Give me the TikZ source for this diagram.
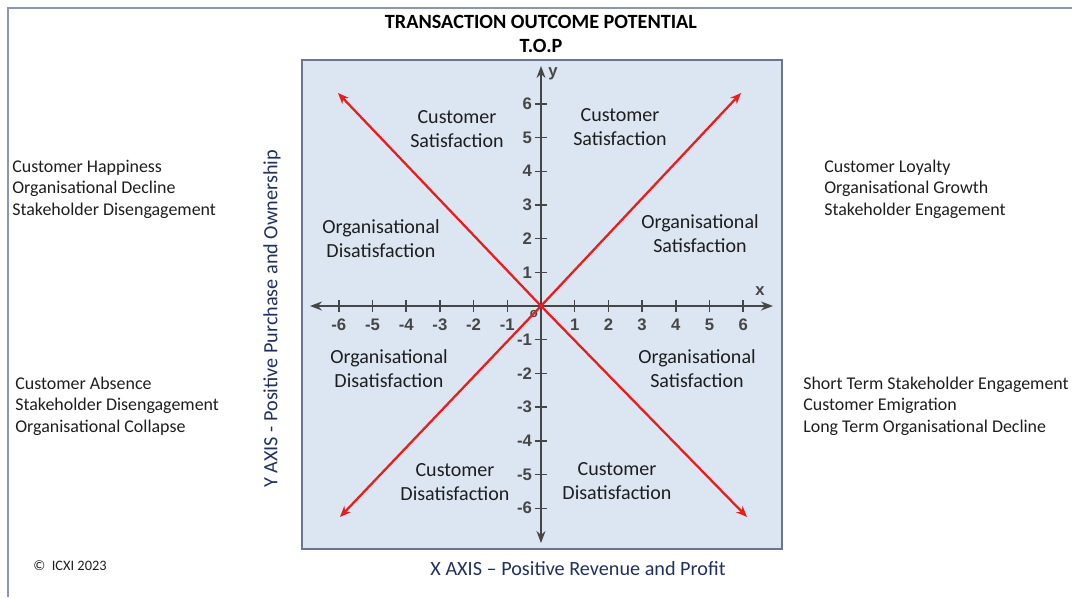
\documentclass[tikz,border=0pt]{standalone}
\usepackage{fontspec}
\setmainfont{Carlito}
\newfontfamily\tickfont{Liberation Sans}
\usepackage{tikz}
\usetikzlibrary{arrows.meta, positioning, calc}
\definecolor{framegray}{RGB}{140,150,172}
\definecolor{plotfill}{RGB}{220,230,242}
\definecolor{plotedge}{RGB}{105,118,140}
\definecolor{axisgray}{RGB}{70,70,70}
\definecolor{crossred}{RGB}{230,30,30}
\definecolor{navy}{RGB}{32,48,96}
\definecolor{textgray}{RGB}{30,30,30}

\begin{document}
\begin{tikzpicture}[
  >={Stealth[length=2mm]},
  axis/.style={draw=axisgray, line width=0.8pt, {Stealth[length=2.4mm, width=1.8mm]}-{Stealth[length=2.4mm, width=1.8mm]}},
  cross/.style={draw=crossred, line width=1.3pt, -{Stealth[length=2.2mm, width=1.8mm]}},
  tick/.style={font=\tickfont\bfseries\fontsize{9.5}{11}\selectfont, text=axisgray, inner sep=1pt},
  zone/.style={font=\fontsize{11.4}{13.6}\selectfont, text=textgray, align=center, inner sep=0pt},
  effect/.style={font=\fontsize{10.2}{12.2}\selectfont, text=textgray, align=left, anchor=west, inner sep=0pt},
  axlabel/.style={font=\fontsize{11.5}{13.6}\selectfont, text=navy, inner sep=0pt}
]
\useasboundingbox (-10.82,-5.82) rectangle (10.62,6.12);

% outer frame (top and left edges only)
\draw[framegray, line width=1.4pt] (10.62,5.96) -- (-10.66,5.96) -- (-10.66,-5.82);

% title
\node[font=\bfseries\fontsize{11.5}{13.6}\selectfont, align=center, inner sep=0pt] (title) at (0,5.44) {TRANSACTION OUTCOME POTENTIAL\\T.O.P};

% plot area
\draw[fill=plotfill, draw=plotedge, line width=0.9pt] (-4.78,-4.86) rectangle (4.82,4.92);
\coordinate (O) at (0,0);

% axes with ticks
\coordinate (xl) at (-4.62,0);
\coordinate (xr) at (4.64,0);
\coordinate (yt) at (0,4.80);
\coordinate (yb) at (0,-4.74);
\draw[axis] (xl) -- (xr);
\draw[axis] (yb) -- (yt);
\foreach \i in {-6,...,-1,1,2,...,6} {
  \draw[axisgray, line width=0.8pt] (\i*0.674,-0.12) -- (\i*0.674,0.12);
  \draw[axisgray, line width=0.8pt] (-0.12,\i*0.674) -- (0.12,\i*0.674);
  \node[tick] at (\i*0.674,-0.38) {\i};
  \node[tick, anchor=east] at (-0.14,\i*0.674) {\i};
}
\node[tick, font=\tickfont\bfseries\fontsize{7.5}{8}\selectfont] at (-0.14,-0.16) {o};
\node[tick] (xname) at (4.38,0.3) {x};
\node[tick] (yname) at (0.24,4.64) {y};

% diagonals
\coordinate (tr) at (4.00,4.26);
\coordinate (tl) at (-4.06,4.26);
\coordinate (bl) at (-4.02,-4.22);
\coordinate (br) at (4.12,-4.22);
\foreach \c in {tr,tl,bl,br}
  \draw[cross] (O) -- (\c);

% quadrant zones
\node[zone] (custTL) at (-1.68,3.54) {Customer\\Satisfaction};
\node[zone] (custTR) at (1.58,3.58) {Customer\\Satisfaction};
\node[zone] (orgL) at (-3.2,1.34) {Organisational\\Disatisfaction};
\node[zone] (orgR) at (3.18,1.44) {Organisational\\Satisfaction};
\node[zone] (orgLL) at (-3.04,-1.26) {Organisational\\Disatisfaction};
\node[zone] (orgLR) at (3.12,-1.26) {Organisational\\Satisfaction};
\node[zone] (custBL) at (-1.72,-3.52) {Customer\\Disatisfaction};
\node[zone] (custBR) at (1.52,-3.50) {Customer\\Disatisfaction};

% outcomes beside the plot
\node[effect] (happy) at (-10.58,2.34) {Customer Happiness\\Organisational Decline\\Stakeholder Disengagement};
\node[effect] (absent) at (-10.52,-2.0) {Customer Absence\\Stakeholder Disengagement\\Organisational Collapse};
\node[effect] (loyal) at (5.66,2.34) {Customer Loyalty\\Organisational Growth\\Stakeholder Engagement};
\node[effect] (emigr) at (5.24,-2.0) {Short Term Stakeholder Engagement\\Customer Emigration\\Long Term Organisational Decline};

% axis names
\node[axlabel, rotate=90] (yaxis) at (-5.38,-0.26) {Y AXIS - Positive Purchase and Ownership};
\node[axlabel] (xaxis) at (0.74,-5.26) {X AXIS -- Positive Revenue and Profit};

\node[font=\fontsize{8.2}{10}\selectfont, text=textgray, inner sep=0pt] (copy) at (-9.42,-5.2) {\textcopyright\ \ ICXI 2023};
\end{tikzpicture}
\end{document}
